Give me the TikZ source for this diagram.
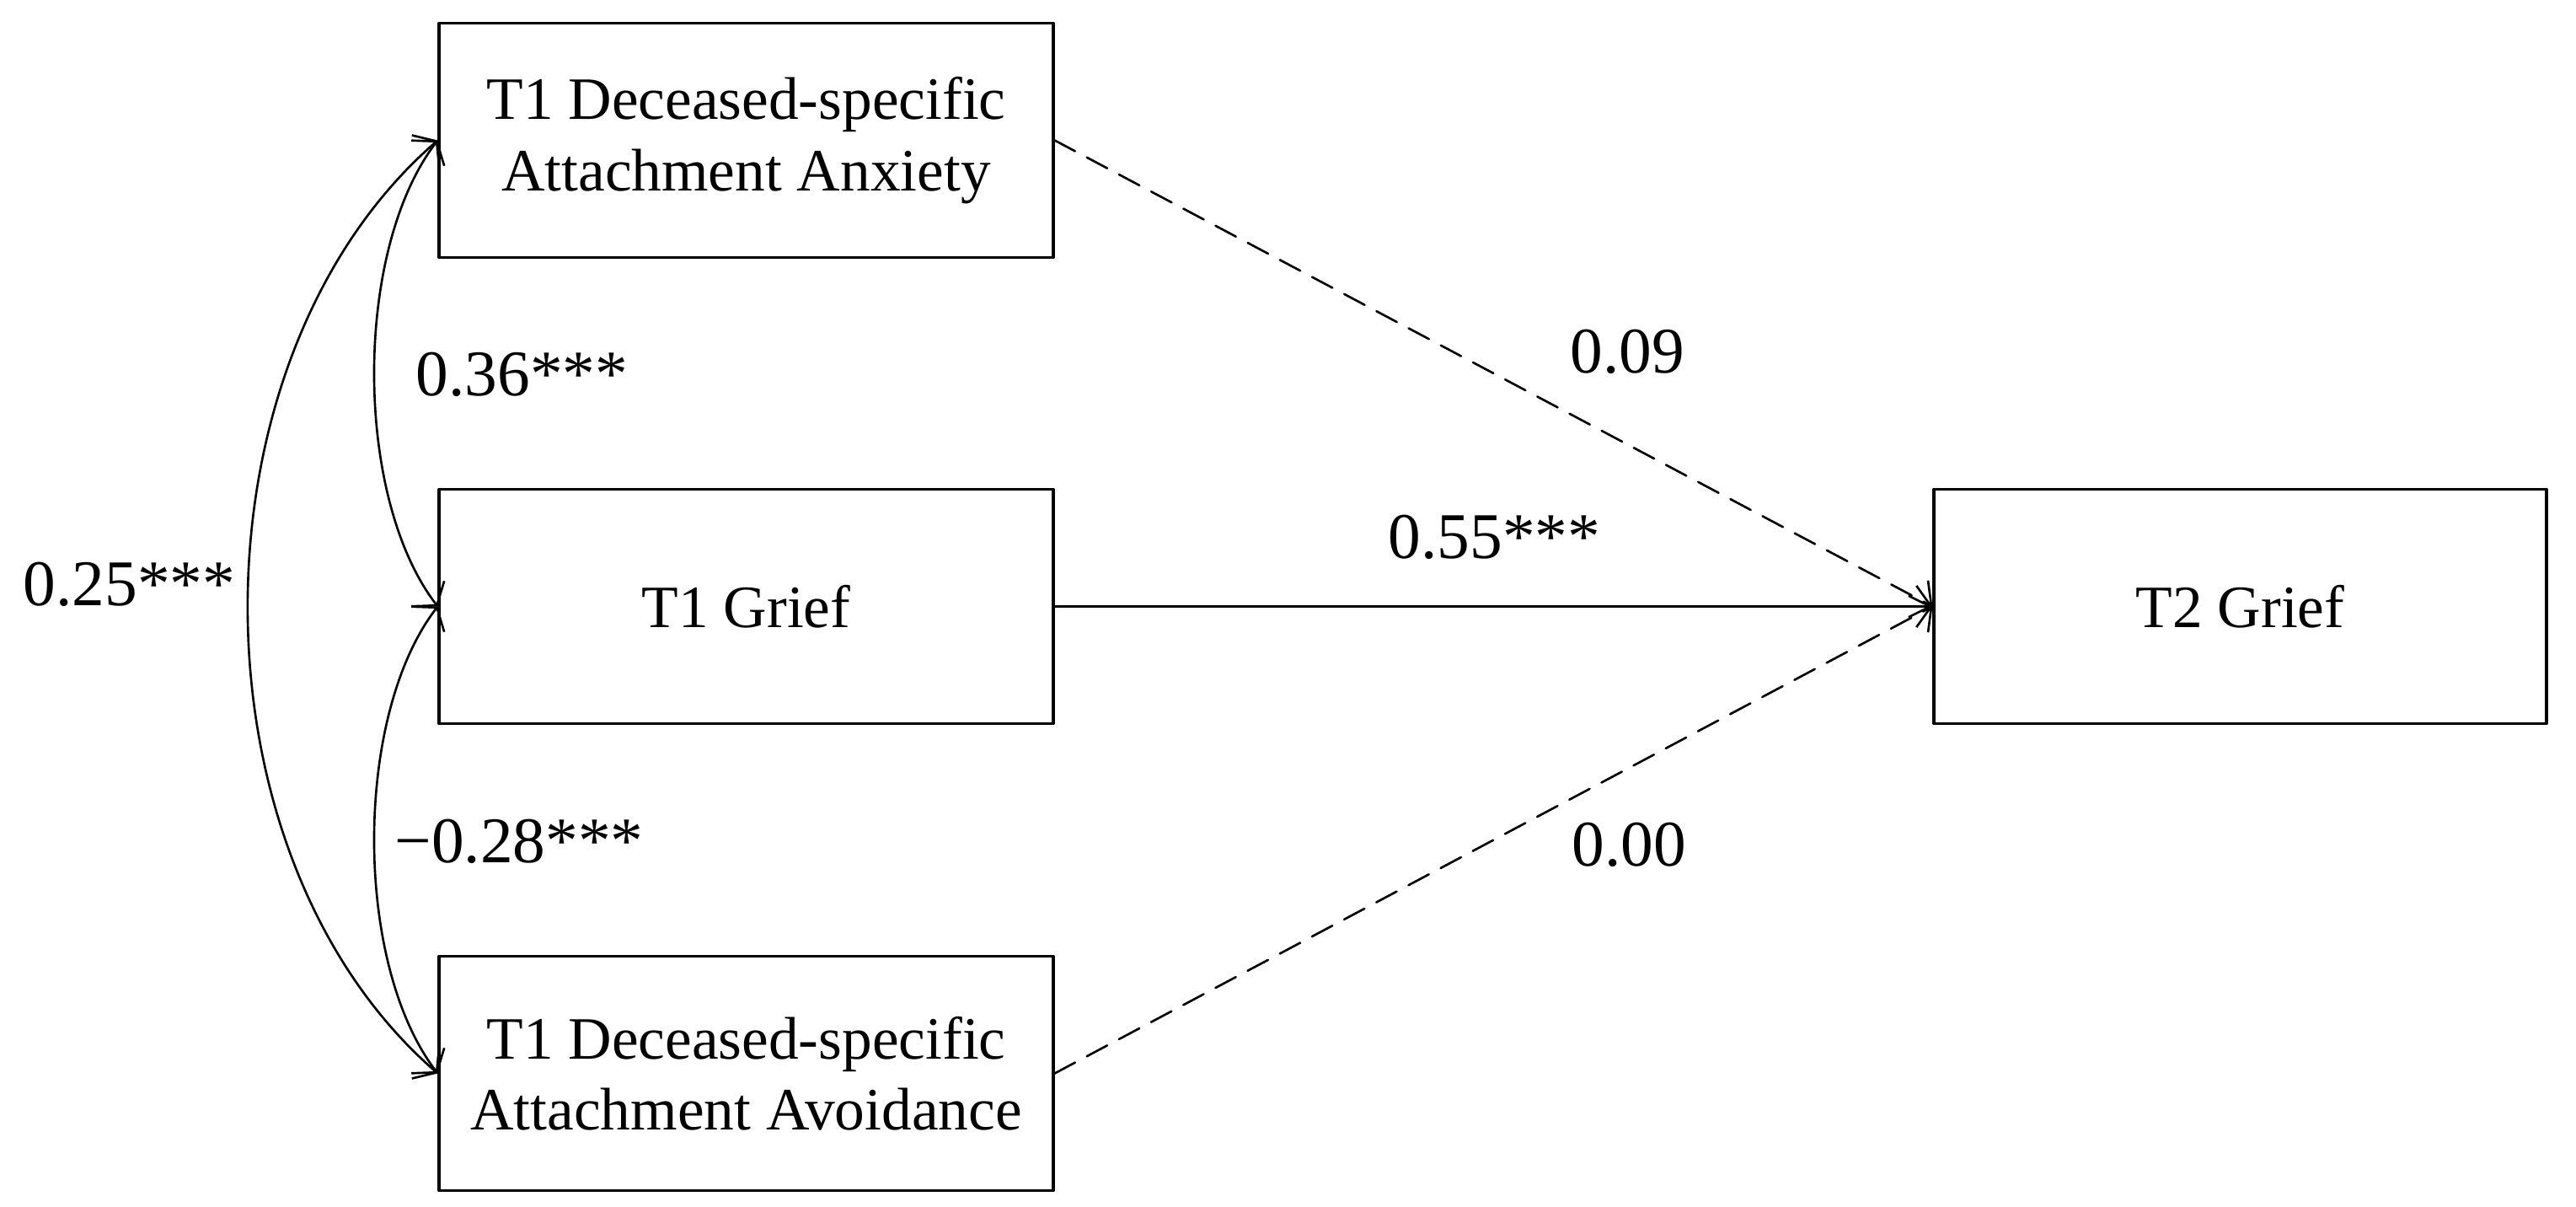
\documentclass[tikz,border=0pt]{standalone}
\usepackage{fontspec}
\setmainfont{Liberation Serif}
\usetikzlibrary{arrows.meta}
\begin{document}
\begin{tikzpicture}[font=\fontsize{20.3}{24}\selectfont,line join=round,line cap=round,
  >={Straight Barb[length=5pt,width=14pt]},
  var/.style={draw,line width=0.9pt,minimum width=7.29cm,minimum height=2.78cm,align=center,inner sep=0pt},
  arr/.style={->,line width=0.75pt},
  ns/.style={dash pattern=on 7.8pt off 4.5pt},
  coef/.style={anchor=base west,inner sep=0pt,font=\fontsize{22}{26}\selectfont}]
 \useasboundingbox (0,0) rectangle (30.57,-14.32);
 % observed variables
 \node[var] (anx) at (8.855,-1.665) {T1 Deceased-specific\\Attachment Anxiety};
 \node[var] (grief1) at (8.855,-7.195) {T1 Grief};
 \node[var] (avo) at (8.855,-12.735) {T1 Deceased-specific\\Attachment Avoidance};
 \node[var,minimum width=7.27cm] (grief2) at (26.585,-7.195) {T2 Grief};
 % paths
 \draw[arr,ns] (anx.east) -- (grief2.west);
 \draw[arr] (grief1.east) -- (grief2.west);
 \draw[arr,ns] (avo.east) -- (grief2.west);
 % covariances
 \draw[<->,line width=0.75pt] (anx.west).. controls +(-1.0,-1.3) and +(-1.0,1.3) .. (grief1.west);
 \draw[<->,line width=0.75pt] (grief1.west).. controls +(-1.0,-1.3) and +(-1.0,1.3) .. (avo.west);
 \draw[<->,line width=0.75pt] (anx.west).. controls +(-3.0,-2.6) and +(-3.0,2.6) .. (avo.west);
 % coefficients
 \node[coef] (b09) at (18.63,-4.42) {0.09};
 \node[coef] (b55) at (16.47,-6.62) {0.55***};
 \node[coef] (b00) at (18.65,-10.27) {0.00};
 \node[coef] (r36) at (4.93,-4.69) {0.36***};
 \node[coef] (r28) at (4.68,-10.23) {−0.28***};
 \node[coef] (r25) at (0.27,-7.18) {0.25***};
\end{tikzpicture}
\end{document}
